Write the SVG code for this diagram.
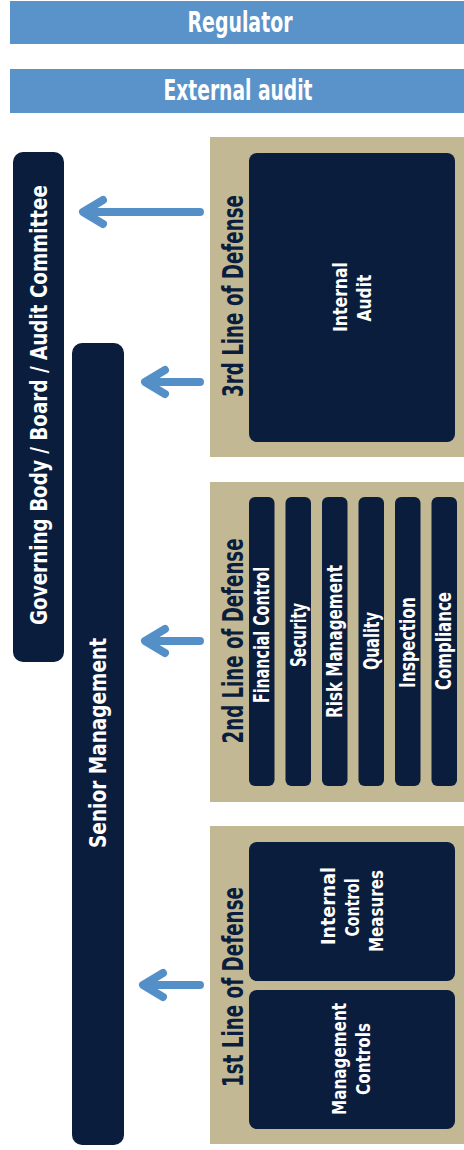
<svg xmlns="http://www.w3.org/2000/svg" width="464" height="1150" viewBox="0 0 464 1150">
<style>
.bar{fill:#5A93C9}
.navy{fill:#0A1D3C}
.tan{fill:#C3B894}
.t{font-family:"Liberation Sans Narrow","DejaVu Sans Condensed","Liberation Sans",sans-serif;font-weight:bold;text-anchor:middle}
.w{fill:#FFFFFF}
.d{fill:#0A1D3C}
.arr{fill:none;stroke:#558FC8;stroke-width:8;stroke-linecap:round;stroke-linejoin:round}
</style>
<rect width="464" height="1150" fill="#FFFFFF"/>
<g id="regulator">
<rect class="bar" x="10" y="1" width="454" height="43"/>
<text class="t w" x="240" y="32" font-size="29" textLength="105" lengthAdjust="spacingAndGlyphs">Regulator</text>
</g>
<g id="external-audit">
<rect class="bar" x="10" y="69" width="454" height="44"/>
<text class="t w" x="238" y="100" font-size="29" textLength="149" lengthAdjust="spacingAndGlyphs">External audit</text>
</g>
<g id="governing-body">
<rect class="navy" x="13" y="152" width="51" height="510" rx="10"/>
<text class="t w" font-size="23" textLength="440" lengthAdjust="spacingAndGlyphs" transform="translate(47,405) rotate(-90)">Governing Body / Board / Audit Committee</text>
</g>
<g id="senior-management">
<rect class="navy" x="72" y="343" width="52" height="802" rx="10"/>
<text class="t w" font-size="23" textLength="210" lengthAdjust="spacingAndGlyphs" transform="translate(106,743) rotate(-90)">Senior Management</text>
</g>
<g id="line3">
<rect class="tan" x="210" y="137" width="254" height="320"/>
<text class="t d" font-size="29" textLength="202" lengthAdjust="spacingAndGlyphs" transform="translate(243,296) rotate(-90)">3rd Line of Defense</text>
</g>
<g id="internal-audit">
<rect class="navy" x="249" y="153" width="206" height="289" rx="8"/>
<text class="t w" font-size="20" textLength="70" lengthAdjust="spacingAndGlyphs" transform="translate(347,297) rotate(-90)">Internal</text>
<text class="t w" font-size="20" textLength="47" lengthAdjust="spacingAndGlyphs" transform="translate(371,298) rotate(-90)">Audit</text>
</g>
<g id="line2">
<rect class="tan" x="210" y="482" width="254" height="320"/>
<text class="t d" font-size="29" textLength="205" lengthAdjust="spacingAndGlyphs" transform="translate(243,641) rotate(-90)">2nd Line of Defense</text>
</g>
<g id="financial-control">
<rect class="navy" x="249" y="497" width="25.5" height="289" rx="6"/>
<text class="t w" font-size="21" textLength="136" lengthAdjust="spacingAndGlyphs" transform="translate(269,635) rotate(-90)">Financial Control</text>
</g>
<g id="security">
<rect class="navy" x="285.5" y="497" width="25.5" height="289" rx="6"/>
<text class="t w" font-size="21" textLength="64" lengthAdjust="spacingAndGlyphs" transform="translate(305.5,635) rotate(-90)">Security</text>
</g>
<g id="risk-management">
<rect class="navy" x="322" y="497" width="25.5" height="289" rx="6"/>
<text class="t w" font-size="21" textLength="153" lengthAdjust="spacingAndGlyphs" transform="translate(342,641.5) rotate(-90)">Risk Management</text>
</g>
<g id="quality">
<rect class="navy" x="358.5" y="497" width="25.5" height="289" rx="6"/>
<text class="t w" font-size="21" textLength="58" lengthAdjust="spacingAndGlyphs" transform="translate(378.5,641) rotate(-90)">Quality</text>
</g>
<g id="inspection">
<rect class="navy" x="395" y="497" width="25.5" height="289" rx="6"/>
<text class="t w" font-size="21" textLength="91" lengthAdjust="spacingAndGlyphs" transform="translate(415,642.5) rotate(-90)">Inspection</text>
</g>
<g id="compliance">
<rect class="navy" x="431.5" y="497" width="25.5" height="289" rx="6"/>
<text class="t w" font-size="21" textLength="98" lengthAdjust="spacingAndGlyphs" transform="translate(450.5,641) rotate(-90)">Compliance</text>
</g>
<g id="line1">
<rect class="tan" x="210" y="826" width="254" height="318"/>
<text class="t d" font-size="29" textLength="200" lengthAdjust="spacingAndGlyphs" transform="translate(243,987) rotate(-90)">1st Line of Defense</text>
</g>
<g id="internal-control-measures">
<rect class="navy" x="249" y="842" width="206" height="139" rx="8"/>
<text class="t w" font-size="20" textLength="78" lengthAdjust="spacingAndGlyphs" transform="translate(335,906) rotate(-90)">Internal</text>
<text class="t w" font-size="20" textLength="58" lengthAdjust="spacingAndGlyphs" transform="translate(359,907.5) rotate(-90)">Control</text>
<text class="t w" font-size="20" textLength="82" lengthAdjust="spacingAndGlyphs" transform="translate(383,911) rotate(-90)">Measures</text>
</g>
<g id="management-controls">
<rect class="navy" x="249" y="990" width="206" height="139" rx="8"/>
<text class="t w" font-size="20" textLength="112" lengthAdjust="spacingAndGlyphs" transform="translate(346,1059) rotate(-90)">Management</text>
<text class="t w" font-size="20" textLength="72" lengthAdjust="spacingAndGlyphs" transform="translate(370,1059) rotate(-90)">Controls</text>
</g>
<g id="connectors">
<path class="arr" d="M200 212 H84 M103 200 L83 212 L103 224"/>
<path class="arr" d="M200 382 H146 M165 370 L145 382 L165 394"/>
<path class="arr" d="M200 641 H146 M165 629 L145 641 L165 653"/>
<path class="arr" d="M200 985 H144 M163 973 L143 985 L163 997"/>
</g>
</svg>
